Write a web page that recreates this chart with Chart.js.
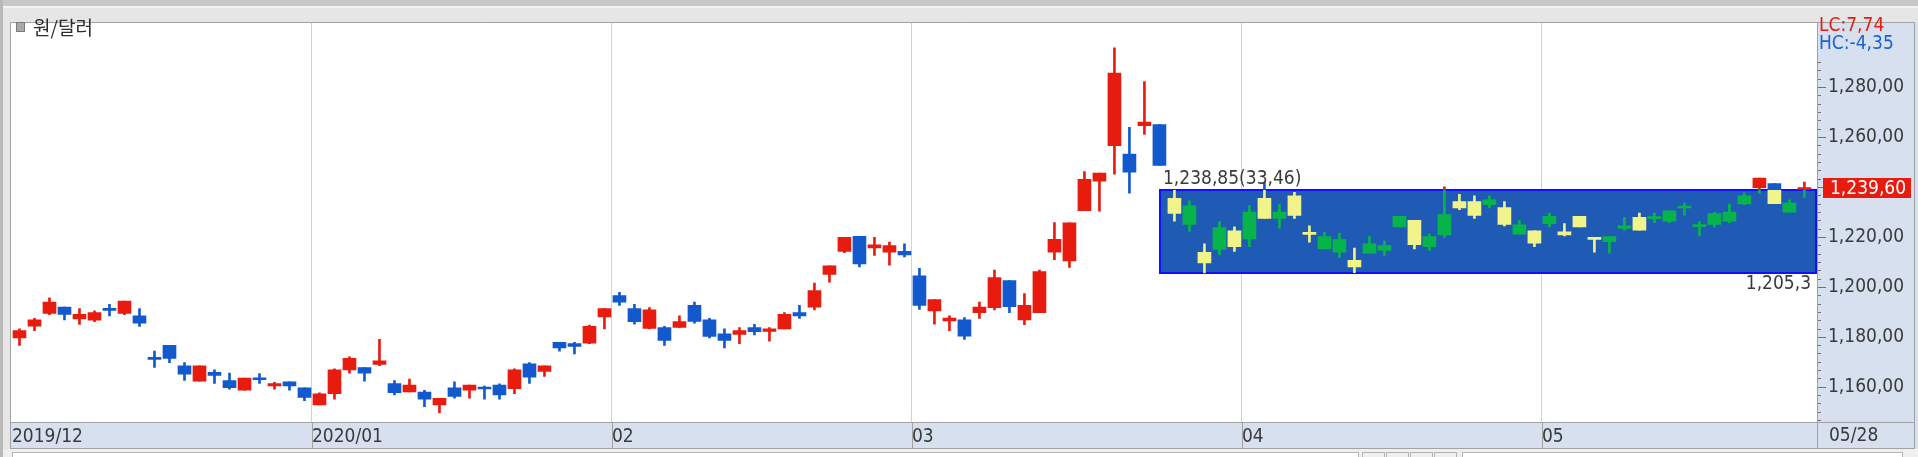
<!DOCTYPE html>
<html>
<head>
<meta charset="utf-8">
<script src="https://cdn.jsdelivr.net/npm/chart.js@4.4.1/dist/chart.umd.min.js"></script>
<style>
  html, body { margin: 0; padding: 0; background: #e6e6e6; overflow: hidden; }
  canvas { display: block; }
</style>
</head>
<body>
<canvas id="fx" width="1918" height="457"></canvas>
<script>
/* ===== DATA ===== */
const monthLabels = ["2019/12", "2020/01", "02", "03", "04", "05"];
const monthStarts = [0, 20, 40, 60, 82, 102];

const opens = [
  1179.6, 1184.3, 1189.4, 1191.9, 1187.2, 1186.7, 1190.9, 1189.4, 1188.4, 1171.3,
  1176.6, 1168.4, 1162.2, 1165.8, 1162.5, 1158.6, 1163.0, 1160.3, 1162.0, 1159.6,
  1152.7, 1157.2, 1166.8, 1167.7, 1169.0, 1161.3, 1157.9, 1157.9, 1152.7, 1159.6,
  1158.6, 1159.4, 1160.7, 1159.2, 1169.2, 1166.2, 1177.8, 1177.3, 1177.5, 1188.0,
  1196.5, 1191.3, 1183.4, 1183.7, 1183.8, 1192.6, 1186.8, 1181.2, 1181.0, 1183.7,
  1182.2, 1183.2, 1189.7, 1191.9, 1205.0, 1214.2, 1220.2, 1215.6, 1213.9, 1214.2,
  1204.4, 1190.4, 1186.4, 1186.8, 1189.7, 1191.7, 1202.5, 1186.8, 1189.7, 1213.9,
  1210.4, 1230.5, 1242.3, 1256.5, 1253.2, 1264.6, 1265.0, 1235.5, 1225.0, 1213.8,
  1215.0, 1222.4, 1219.2, 1235.5, 1227.4, 1236.5, 1221.3, 1215.2, 1213.9, 1210.6,
  1213.5, 1214.6, 1224.0, 1226.6, 1216.1, 1220.8, 1234.2, 1234.2, 1232.9, 1231.8,
  1221.1, 1222.4, 1225.3, 1222.0, 1228.3, 1219.4, 1218.1, 1223.4, 1227.9, 1227.3,
  1226.3, 1231.6, 1224.1, 1225.0, 1226.3, 1233.2, 1239.7, 1241.4, 1229.9, 1239.0
];
const highs = [
  1183.2, 1187.4, 1195.6, 1191.9, 1191.3, 1190.4, 1193.0, 1194.3, 1191.3, 1174.3,
  1176.6, 1169.7, 1168.4, 1166.8, 1165.5, 1163.5, 1165.3, 1161.8, 1162.0, 1159.6,
  1157.6, 1167.2, 1172.0, 1167.7, 1179.0, 1162.5, 1163.1, 1158.6, 1155.4, 1162.0,
  1160.7, 1160.3, 1161.2, 1167.2, 1169.7, 1168.4, 1177.8, 1177.8, 1184.7, 1191.3,
  1197.8, 1193.0, 1191.7, 1184.2, 1188.4, 1193.9, 1187.4, 1183.2, 1183.7, 1185.0,
  1183.7, 1189.7, 1192.6, 1201.5, 1208.4, 1219.8, 1220.2, 1219.8, 1217.9, 1217.2,
  1207.4, 1194.9, 1188.4, 1187.7, 1193.9, 1206.7, 1202.5, 1197.3, 1206.7, 1225.7,
  1225.6, 1246.2, 1245.6, 1295.7, 1263.9, 1282.2, 1265.0, 1238.85, 1234.5, 1217.2,
  1226.1, 1224.0, 1232.6, 1241.8, 1233.2, 1237.9, 1224.4, 1221.8, 1221.4, 1215.5,
  1220.1, 1218.3, 1228.3, 1226.6, 1221.1, 1240.1, 1237.1, 1236.5, 1236.5, 1234.2,
  1226.6, 1222.4, 1229.6, 1225.3, 1228.3, 1219.4, 1220.1, 1227.9, 1229.6, 1229.6,
  1230.5, 1233.6, 1226.1, 1229.9, 1233.2, 1237.7, 1243.6, 1241.4, 1234.9, 1242.0
];
const lows = [
  1176.6, 1182.5, 1188.9, 1186.8, 1185.0, 1186.1, 1188.4, 1188.9, 1184.2, 1167.8,
  1169.7, 1162.5, 1162.2, 1161.3, 1159.0, 1158.6, 1161.3, 1159.0, 1158.6, 1154.4,
  1152.7, 1155.0, 1165.5, 1162.2, 1168.5, 1156.7, 1157.9, 1152.0, 1149.5, 1155.4,
  1155.4, 1155.0, 1155.0, 1157.2, 1161.3, 1164.2, 1174.3, 1173.2, 1177.3, 1183.2,
  1192.6, 1185.1, 1183.2, 1176.6, 1183.8, 1185.5, 1179.6, 1175.6, 1177.3, 1180.8,
  1178.3, 1183.2, 1187.4, 1190.8, 1201.9, 1213.7, 1208.0, 1212.6, 1208.7, 1212.0,
  1191.0, 1185.1, 1182.5, 1179.0, 1187.4, 1190.8, 1189.7, 1184.9, 1189.7, 1210.9,
  1207.8, 1230.5, 1230.3, 1245.1, 1237.5, 1261.0, 1248.6, 1226.3, 1222.2, 1205.4,
  1212.9, 1214.2, 1216.1, 1227.4, 1223.5, 1227.4, 1217.9, 1215.2, 1211.7, 1205.7,
  1213.5, 1212.6, 1224.0, 1215.2, 1214.6, 1219.8, 1230.9, 1227.4, 1231.6, 1224.4,
  1221.1, 1216.1, 1224.0, 1220.4, 1224.0, 1213.9, 1213.5, 1222.7, 1222.7, 1225.7,
  1225.7, 1228.7, 1220.4, 1224.0, 1225.7, 1232.9, 1237.5, 1233.3, 1229.9, 1235.8
];
const closes = [
  1182.5, 1186.8, 1193.9, 1189.0, 1189.0, 1189.7, 1190.6, 1194.3, 1185.5, 1171.0,
  1171.4, 1165.1, 1168.4, 1164.6, 1159.6, 1163.5, 1162.8, 1161.3, 1160.3, 1155.7,
  1157.2, 1166.8, 1171.4, 1165.5, 1170.4, 1157.6, 1160.7, 1155.0, 1155.4, 1156.1,
  1160.7, 1159.1, 1156.7, 1166.8, 1163.8, 1168.4, 1175.6, 1176.2, 1184.2, 1191.3,
  1193.9, 1186.1, 1190.8, 1178.6, 1186.1, 1186.2, 1180.2, 1178.6, 1182.5, 1182.1,
  1183.2, 1189.0, 1188.4, 1198.5, 1208.4, 1219.8, 1209.2, 1216.8, 1216.5, 1212.8,
  1192.6, 1194.9, 1187.5, 1180.3, 1191.9, 1203.7, 1192.1, 1192.6, 1206.1, 1219.0,
  1225.6, 1243.1, 1245.6, 1285.6, 1245.9, 1266.0, 1248.6, 1229.4, 1232.5, 1209.6,
  1223.7, 1216.1, 1230.0, 1227.4, 1230.0, 1228.6, 1221.0, 1220.1, 1218.9, 1208.0,
  1217.2, 1216.5, 1228.3, 1216.9, 1220.1, 1229.0, 1231.6, 1228.6, 1234.9, 1225.0,
  1224.8, 1217.5, 1228.3, 1220.8, 1224.0, 1219.0, 1220.1, 1224.4, 1222.7, 1227.9,
  1230.5, 1232.0, 1224.8, 1229.4, 1230.0, 1236.5, 1243.6, 1233.3, 1233.6, 1239.6
];

const boxFirst = 77;            // first candle drawn inside the range box
const boxHigh = 1238.85;
const boxLow = 1205.39;
const boxHighText = "1,238,85(33,46)";
const boxLowText = "1,205,3";
const lastClose = 1239.6;
const lastDate = "05/28";
const lcText = "LC:7,74";
const hcText = "HC:-4,35";
const title = "원/달러";
const yMin = 1145.9;
const yMax = 1305.9;
const yLabelMax = 1280;

/* ===== STYLE ===== */
const W = 1918, H = 457;
const STRIP_BOTTOM = 448;
const PANEL = "#d6e0ee";
const LINE = "#a2a2a2";
const TXT = "#3a3a3a";
const RED = "#e81b0f";
const BLUE = "#1259cd";
const GREEN = "#06b44b";
const YELLOW = "#f1f48b";
const BOX = "#1f5bb4";
const BOX_EDGE = "#1010ff";
const FAMILY = "'Liberation Sans Narrow', 'DejaVu Sans Condensed', 'Liberation Sans', sans-serif";

/* ===== HELPERS ===== */
function fmt(v, d) {
  return v.toLocaleString("en-US", { minimumFractionDigits: d, maximumFractionDigits: d }).replace(".", ",");
}

// minor ticks every 20/6, labels every 20
const yTickValues = [];
for (let k = -4; k <= 43; k++) yTickValues.push(1160 + (k * 20) / 6);
const isMajor = (v) => Math.abs(v / 20 - Math.round(v / 20)) < 1e-6;

const gradCache = {};
function candleColor(ctx) {
  const i = ctx.dataIndex;
  const up = closes[i] >= opens[i];
  const outer = up ? RED : BLUE;
  const chart = ctx.chart;
  const a = chart.chartArea;
  if (i < boxFirst || !a || !chart.scales.y) return outer;
  const inner = up ? GREEN : YELLOW;
  const key = (up ? "u" : "d") + a.top + "_" + a.bottom;
  if (!gradCache[key]) {
    const ys = chart.scales.y;
    const span = a.bottom - a.top;
    const t = (ys.getPixelForValue(boxHigh) - a.top) / span;
    const b = (ys.getPixelForValue(boxLow) - a.top) / span;
    const g = chart.ctx.createLinearGradient(0, a.top, 0, a.bottom);
    g.addColorStop(0, outer);
    g.addColorStop(t, outer);
    g.addColorStop(t, inner);
    g.addColorStop(b, inner);
    g.addColorStop(b, outer);
    g.addColorStop(1, outer);
    gradCache[key] = g;
  }
  return gradCache[key];
}

/* ===== FRAME / OVERLAY PLUGIN ===== */
const frame = {
  id: "frame",
  beforeDraw(chart) {
    const { ctx, chartArea: a } = chart;
    ctx.save();
    ctx.fillStyle = "#e6e6e6";
    ctx.fillRect(0, 0, W, H);
    ctx.fillStyle = "#c8c8c8";
    ctx.fillRect(0, 0, W, 6);
    ctx.fillStyle = "#f3f3f3";
    ctx.fillRect(0, 6, W, 2);
    ctx.fillStyle = "#b9b9b9";
    ctx.fillRect(0, 0, 3, H);
    ctx.fillStyle = "#ffffff";
    ctx.fillRect(a.left, a.top, a.right - a.left, a.bottom - a.top);
    ctx.fillStyle = PANEL;
    ctx.fillRect(a.right, a.top, W - a.right, STRIP_BOTTOM - a.top);
    ctx.fillRect(a.left, a.bottom, a.right - a.left, STRIP_BOTTOM - a.bottom);
    ctx.restore();
  },
  beforeDatasetsDraw(chart) {
    const { ctx, chartArea: a, scales } = chart;
    const left = Math.round(scales.x.getPixelForValue(boxFirst - 1));
    const top = Math.round(scales.y.getPixelForValue(boxHigh));
    const bottom = Math.round(scales.y.getPixelForValue(boxLow));
    const right = Math.round(a.right) - 1;
    ctx.save();
    ctx.fillStyle = BOX;
    ctx.fillRect(left, top, right - left, bottom - top);
    ctx.strokeStyle = BOX_EDGE;
    ctx.lineWidth = 2;
    ctx.strokeRect(left + 1, top, right - left - 1, bottom - top);
    ctx.restore();
  },
  afterDraw(chart) {
    const { ctx, chartArea: a, scales } = chart;
    const xs = scales.x, ys = scales.y;
    const R = Math.round(a.right);
    ctx.save();

    // plot frame
    ctx.strokeStyle = LINE;
    ctx.lineWidth = 1;
    ctx.beginPath();
    ctx.moveTo(Math.round(a.left) + 0.5, STRIP_BOTTOM);
    ctx.lineTo(Math.round(a.left) + 0.5, Math.round(a.top) + 0.5);
    ctx.lineTo(W - 3, Math.round(a.top) + 0.5);
    ctx.moveTo(Math.round(a.left), STRIP_BOTTOM + 0.5);
    ctx.lineTo(W - 3, STRIP_BOTTOM + 0.5);
    ctx.moveTo(R + 0.5, a.top);
    ctx.lineTo(R + 0.5, STRIP_BOTTOM);
    ctx.moveTo(R, Math.round(a.bottom) + 0.5);
    ctx.lineTo(W - 3, Math.round(a.bottom) + 0.5);
    ctx.moveTo(W - 3.5, a.top);
    ctx.lineTo(W - 3.5, STRIP_BOTTOM);
    ctx.stroke();

    // dividers in the date strip
    ctx.beginPath();
    monthStarts.slice(1).forEach((m) => {
      const px = Math.round(xs.getPixelForValue(m - 0.5)) + 0.5;
      ctx.moveTo(px, a.bottom);
      ctx.lineTo(px, STRIP_BOTTOM);
    });
    ctx.stroke();

    // y tick marks
    ctx.strokeStyle = "#6f6f6f";
    ctx.beginPath();
    yTickValues.forEach((v) => {
      const py = Math.round(ys.getPixelForValue(v)) + 0.5;
      if (py < a.top + 40 || py > a.bottom) return;
      ctx.moveTo(R + 1, py);
      ctx.lineTo(R + (isMajor(v) ? 9 : 4), py);
    });
    ctx.stroke();

    // last price tag
    const pyl = Math.round(ys.getPixelForValue(lastClose));
    ctx.fillStyle = RED;
    ctx.fillRect(R + 6, pyl - 10, 88, 20);
    ctx.font = "19px " + FAMILY;
    ctx.textBaseline = "middle";
    ctx.textAlign = "left";
    ctx.fillStyle = "#ffffff";
    ctx.fillText(fmt(lastClose, 2), R + 13, pyl + 1);

    // LC / HC
    ctx.fillStyle = RED;
    ctx.fillText(lcText, R + 2, 26);
    ctx.fillStyle = "#1c5fd6";
    ctx.fillText(hcText, R + 2, 44);

    // last date in the corner cell
    ctx.fillStyle = TXT;
    ctx.fillText(lastDate, R + 12, 436);

    // range box labels
    const bl = Math.round(xs.getPixelForValue(boxFirst - 1));
    ctx.textBaseline = "bottom";
    ctx.fillText(boxHighText, bl + 4, Math.round(ys.getPixelForValue(boxHigh)) - 1);
    ctx.textBaseline = "top";
    ctx.textAlign = "right";
    ctx.fillText(boxLowText, R - 6, Math.round(ys.getPixelForValue(boxLow)) + 2);

    // title
    ctx.fillStyle = "#a9a9a9";
    ctx.fillRect(17, 23, 7, 8);
    ctx.strokeStyle = "#7c7c7c";
    ctx.strokeRect(16.5, 22.5, 8, 9);
    ctx.textAlign = "left";
    ctx.textBaseline = "middle";
    ctx.fillStyle = "#2b2b2b";
    ctx.font = "19px 'Noto Sans CJK KR', sans-serif";
    ctx.fillText(title, 33, 28);

    // scroll bar row
    ctx.fillStyle = "#efefef";
    ctx.fillRect(3, STRIP_BOTTOM + 1, W - 3, H - STRIP_BOTTOM - 1);
    ctx.fillStyle = "#ffffff";
    ctx.fillRect(12, 452, 1346, 5);
    ctx.strokeStyle = "#b4b4b4";
    ctx.strokeRect(12.5, 452.5, 1346, 6);
    [1362, 1386, 1410, 1434].forEach((bx) => ctx.strokeRect(bx + 0.5, 452.5, 22, 6));
    ctx.fillStyle = "#ffffff";
    ctx.fillRect(1462, 452, 440, 5);
    ctx.strokeRect(1462.5, 452.5, 440, 6);
    ctx.restore();
  },
};

/* ===== CHART ===== */
const wickData = opens.map((_, i) => ({ x: i, y: [lows[i], highs[i]] }));
const bodyData = opens.map((o, i) => ({ x: i, y: [o, closes[i]] }));

const fx = new Chart(document.getElementById("fx"), {
  type: "bar",
  data: {
    datasets: [
      {
        data: bodyData,
        backgroundColor: candleColor,
        borderWidth: 0,
        barThickness: 13,
        maxBarThickness: 13,
        minBarLength: 2,
        grouped: false,
        order: 0,
      },
      {
        data: wickData,
        backgroundColor: candleColor,
        borderWidth: 0,
        barThickness: 2,
        maxBarThickness: 2,
        grouped: false,
        order: 1,
      },
    ],
  },
  options: {
    responsive: false,
    devicePixelRatio: 1,
    animation: false,
    events: [],
    layout: { padding: { left: 10, top: 13, right: 0, bottom: 0 } },
    plugins: { legend: { display: false }, tooltip: { enabled: false } },
    scales: {
      x: {
        type: "linear",
        offset: false,
        min: -0.633,
        max: 119.84,
        afterBuildTicks: (s) => {
          s.ticks = monthStarts.map((m) => ({ value: m - 0.5 }));
        },
        afterFit: (s) => {
          s.height = 35;
        },
        ticks: {
          autoSkip: false,
          maxRotation: 0,
          align: "start",
          padding: 4,
          color: TXT,
          font: { family: FAMILY, size: 19 },
          callback: (v, i) => monthLabels[i],
        },
        grid: {
          offset: false,
          drawTicks: false,
          color: (c) => (c.index === 0 ? "rgba(0,0,0,0)" : "#d3d3d3"),
        },
        border: { display: true, color: LINE },
      },
      y: {
        position: "right",
        min: yMin,
        max: yMax,
        afterBuildTicks: (s) => {
          s.ticks = yTickValues.map((v) => ({ value: v }));
        },
        afterFit: (s) => {
          s.width = 101;
        },
        ticks: {
          autoSkip: false,
          padding: 11,
          color: TXT,
          font: { family: FAMILY, size: 19 },
          callback: (v) => (isMajor(v) && v <= yLabelMax ? fmt(v, 2) : ""),
        },
        grid: { drawOnChartArea: false, drawTicks: false },
        border: { display: true, color: LINE },
      },
    },
  },
  plugins: [frame],
});
</script>
</body>
</html>
